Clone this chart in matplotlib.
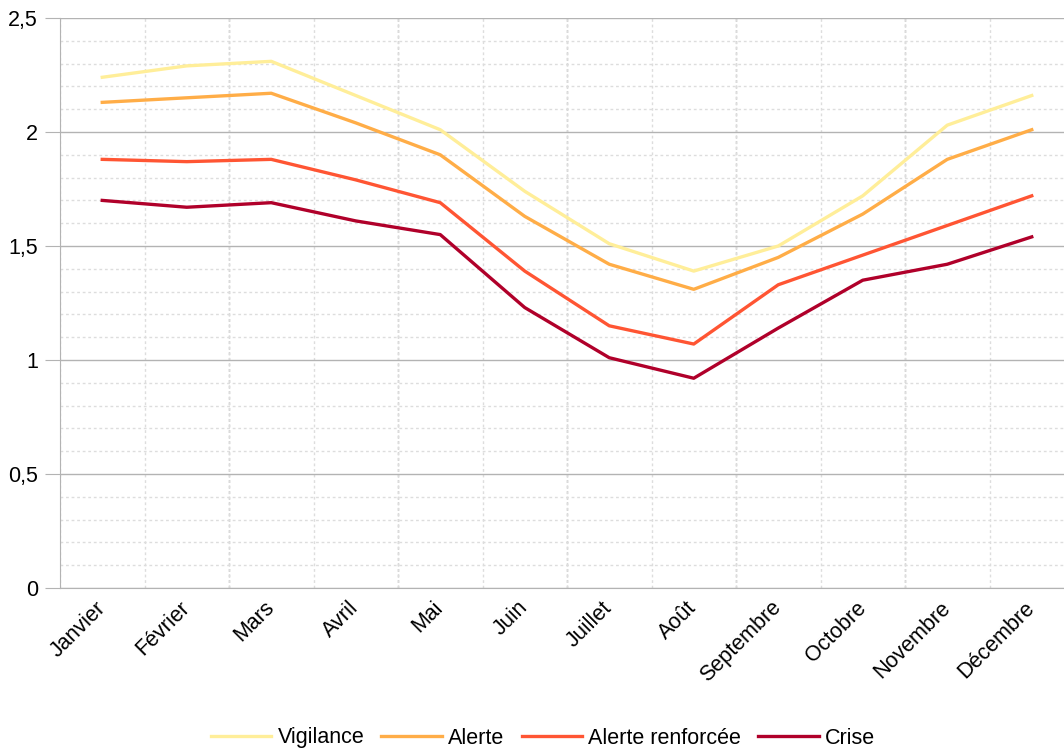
import matplotlib
matplotlib.use("Agg")
import matplotlib.pyplot as plt
from matplotlib.ticker import MultipleLocator, FuncFormatter

plt.rcParams['font.family'] = ['Liberation Sans', 'DejaVu Sans']

months = ["Janvier", "Février", "Mars", "Avril", "Mai", "Juin", "Juillet",
          "Août", "Septembre", "Octobre", "Novembre", "Décembre"]

vigilance = [2.24, 2.29, 2.31, 2.16, 2.01, 1.74, 1.51, 1.39, 1.50, 1.72, 2.03, 2.16]
alerte = [2.13, 2.15, 2.17, 2.04, 1.90, 1.63, 1.42, 1.31, 1.45, 1.64, 1.88, 2.01]
alerte_renforcee = [1.88, 1.87, 1.88, 1.79, 1.69, 1.39, 1.15, 1.07, 1.33, 1.46, 1.59, 1.72]
crise = [1.70, 1.67, 1.69, 1.61, 1.55, 1.23, 1.01, 0.92, 1.14, 1.35, 1.42, 1.54]

series = [
    ("Vigilance", vigilance, "#ffee99"),
    ("Alerte", alerte, "#ffad47"),
    ("Alerte renforcée", alerte_renforcee, "#ff5533"),
    ("Crise", crise, "#b0002a"),
]

FS = 15.5

fig = plt.figure(figsize=(10.64, 7.52), dpi=100)
ax = fig.add_axes([60 / 1064, 1 - 588 / 752, 1014 / 1064, 570 / 752])

x = list(range(len(months)))
for name, vals, col in series:
    ax.plot(x, vals, color=col, lw=2.4, label=name)

ax.set_xlim(-0.5, 11.5)
ax.set_ylim(0, 2.5)

ax.yaxis.set_major_locator(MultipleLocator(0.5))
ax.yaxis.set_minor_locator(MultipleLocator(0.1))
ax.yaxis.set_major_formatter(FuncFormatter(lambda v, p: f"{v:g}".replace(".", ",")))
ax.grid(axis='y', which='major', color='#b3b3b3', lw=1, ls='-')
ax.grid(axis='y', which='minor', color='#dddddd', lw=1, ls=(0, (2, 2)))

ax.set_xticks(x)
ax.set_xticklabels(months, rotation=45, ha='right', va='center',
                   rotation_mode='anchor')
ax.set_xticks([i + 0.5 for i in range(-1, 12)], minor=True)
ax.grid(axis='x', which='minor', color='#dddddd', lw=1, ls=(0, (2, 2)))
for b in [1.5, 3.5, 5.5, 7.5, 9.5]:
    ax.axvline(b, color='#b3b3b3', lw=1, ls=(0, (2, 2)), zorder=0.5)
ax.set_axisbelow(True)

ax.tick_params(axis='x', which='both', length=0, labelsize=FS, pad=12)
ax.tick_params(axis='y', which='major', length=11, color='#b3b3b3', labelsize=FS, pad=5)
ax.tick_params(axis='y', which='minor', length=0)

for s in ['top', 'right']:
    ax.spines[s].set_visible(False)
for s in ['left', 'bottom']:
    ax.spines[s].set_color('#b3b3b3')

fig.legend(loc='center', bbox_to_anchor=(543 / 1064, 1 - 738 / 752), ncol=4,
           frameon=False, fontsize=FS, handlelength=2.8, columnspacing=0.8,
           handletextpad=0.3)

fig.savefig("out.png", dpi=100)
